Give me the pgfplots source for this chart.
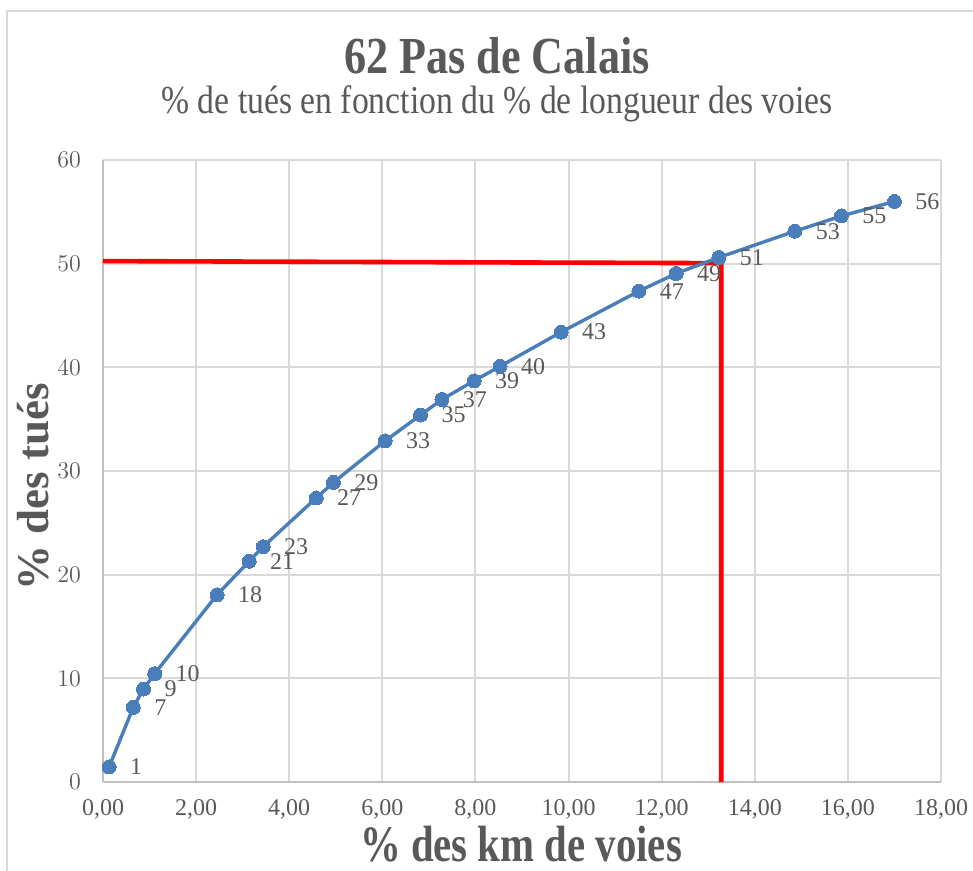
\documentclass[border=0pt]{standalone}
\usepackage{fontspec}
\setmainfont{Liberation Serif}
\newfontfamily\condfont[FakeStretch=0.85]{Liberation Serif}
\newfontfamily\xlabfont[FakeStretch=0.8]{Liberation Serif}
\usepackage{pgfplots}
\pgfplotsset{compat=1.18}
\definecolor{txt}{HTML}{595959}
\definecolor{serie}{RGB}{74,126,187}
\definecolor{gridc}{HTML}{D9D9D9}
\definecolor{axc}{HTML}{BFBFBF}
\begin{document}
\begin{tikzpicture}
\useasboundingbox (0,0) rectangle (486.5pt,-435.5pt);
\draw[gridc, line width=1pt] (3.5pt,-440pt) -- (3.5pt,-5.5pt) -- (490pt,-5.5pt);
\begin{axis}[
  at={(51.5pt,-391pt)}, anchor=south west,
  scale only axis, width=419pt, height=311pt,
  xmin=0, xmax=18, ymin=0, ymax=60,
  xtick={0,2,...,18}, ytick={0,10,...,60},
  xticklabels={{0,00},{2,00},{4,00},{6,00},{8,00},{10,00},{12,00},{14,00},{16,00},{18,00}},
  grid=major, major grid style={gridc, line width=1pt},
  axis x line*=bottom, axis y line*=left,
  axis line style={axc, line width=1.3pt, -},
  major tick length=0pt,
  tick label style={font=\fontsize{12}{14}\selectfont, text=txt},
  xticklabel style={yshift=-5pt},
  yticklabel style={xshift=-7.5pt},
  clip=false,
]
\addplot[red, line width=2.3pt, line join=miter, mark=none] coordinates {(0,50.25) (13.28,50.05) (13.28,0)};
\addplot[serie, line width=1.7pt, mark=*, mark size=3.5pt,
  mark options={fill=serie, draw=serie, line width=0pt},
  nodes near coords, point meta=explicit symbolic,
  every node near coord/.style={anchor=west, xshift=10.5pt, inner sep=0pt, font=\fontsize{12}{14}\selectfont, text=txt}]
  table[meta=l] {
x y l
0.13 1.45 1
0.65 7.2 7
0.87 8.97 9
1.11 10.45 10
2.45 18.06 18
3.14 21.3 21
3.44 22.7 23
4.58 27.4 27
4.95 28.9 29
6.06 32.9 33
6.82 35.4 35
7.28 36.9 37
7.97 38.7 39
8.53 40.1 40
9.84 43.4 43
11.51 47.35 47
12.31 49.05 49
13.23 50.6 51
14.86 53.13 53
15.86 54.6 55
17.00 56.0 56
};
\end{axis}
\node[anchor=base, inner sep=0pt, text=txt, font=\condfont\bfseries\fontsize{26}{30}\selectfont] at (248.5pt,-37pt) {62 Pas de Calais};
\node[anchor=base, inner sep=0pt, text=txt, font=\condfont\fontsize{19.8}{24}\selectfont] at (248.5pt,-57pt) {\% de tués en fonction du \% de longueur des voies};
\node[anchor=base, inner sep=0pt, text=txt, font=\xlabfont\bfseries\fontsize{25.5}{30}\selectfont] at (260.5pt,-430.5pt) {\% des km de voies};
\node[anchor=base, inner sep=0pt, rotate=90, text=txt, font=\bfseries\fontsize{22.5}{26}\selectfont] at (24pt,-243.5pt) {\% des tués};
\end{tikzpicture}
\end{document}
